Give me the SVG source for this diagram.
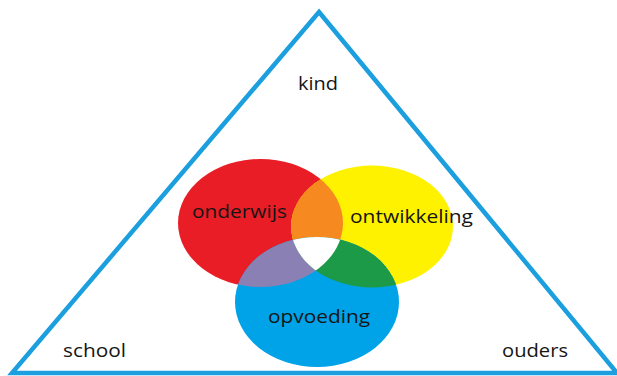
<svg xmlns="http://www.w3.org/2000/svg" width="617" height="376" viewBox="0 0 617 376">
  <style>
    .lbl { font-family: "Open Sans", "Liberation Sans", sans-serif; font-size: 18px; fill: #151515; }
  </style>
  <defs>
    <clipPath id="clipRed"><ellipse cx="260.5" cy="223" rx="82.5" ry="64"/></clipPath>
    <clipPath id="clipYellow"><ellipse cx="372" cy="226.5" rx="81" ry="61"/></clipPath>
    <clipPath id="clipBlue"><ellipse cx="317" cy="302" rx="82" ry="65"/></clipPath>
  </defs>
  <rect width="617" height="376" fill="#ffffff"/>
  <g id="triangle">
    <polygon points="319,12 617,373 12,373" fill="none" stroke="#1c9fdf" stroke-width="4.5" stroke-linejoin="miter"/>
  </g>
  <g id="circles">
    <ellipse id="red" cx="260.5" cy="223" rx="82.5" ry="64" fill="#e91d25"/>
    <ellipse id="yellow" cx="372" cy="226.5" rx="81" ry="61" fill="#fff200"/>
    <ellipse id="blue" cx="317" cy="302" rx="82" ry="65" fill="#00a2e8"/>
    <ellipse id="orange" cx="372" cy="226.5" rx="81" ry="61" fill="#f6891f" clip-path="url(#clipRed)"/>
    <ellipse id="purple" cx="317" cy="302" rx="82" ry="65" fill="#8a80b4" clip-path="url(#clipRed)"/>
    <ellipse id="green" cx="317" cy="302" rx="82" ry="65" fill="#1d9a48" clip-path="url(#clipYellow)"/>
    <g clip-path="url(#clipRed)">
      <ellipse id="white" cx="317" cy="302" rx="82" ry="65" fill="#ffffff" clip-path="url(#clipYellow)"/>
    </g>
  </g>
  <g id="labels">
    <g id="kind"><text class="lbl" x="298" y="90" textLength="40" lengthAdjust="spacingAndGlyphs">kind</text></g>
    <g id="onderwijs"><text class="lbl" x="192" y="218" textLength="95" lengthAdjust="spacingAndGlyphs">onderwijs</text></g>
    <g id="ontwikkeling"><text class="lbl" x="350" y="223" textLength="123" lengthAdjust="spacingAndGlyphs">ontwikkeling</text></g>
    <g id="opvoeding"><text class="lbl" x="268" y="323" textLength="102" lengthAdjust="spacingAndGlyphs">opvoeding</text></g>
    <g id="school"><text class="lbl" x="63" y="357" textLength="63" lengthAdjust="spacingAndGlyphs">school</text></g>
    <g id="ouders"><text class="lbl" x="502" y="357" textLength="66" lengthAdjust="spacingAndGlyphs">ouders</text></g>
  </g>
</svg>
